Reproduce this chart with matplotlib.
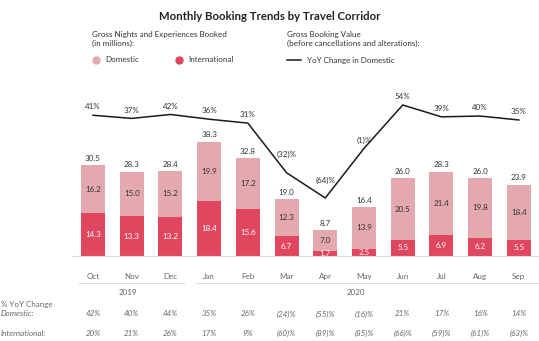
import matplotlib.pyplot as plt
from matplotlib.lines import Line2D

plt.rcParams['font.family'] = ['Lato', 'DejaVu Sans']

# Data
months = ['Oct', 'Nov', 'Dec', 'Jan', 'Feb', 'Mar', 'Apr', 'May', 'Jun', 'Jul', 'Aug', 'Sep']
international = [14.3, 13.3, 13.2, 18.4, 15.6, 6.7, 1.7, 2.5, 5.5, 6.9, 6.2, 5.5]
domestic = [16.2, 15.0, 15.2, 19.9, 17.2, 12.3, 7.0, 13.9, 20.5, 21.4, 19.8, 18.4]
totals = [30.5, 28.3, 28.4, 38.3, 32.8, 19.0, 8.7, 16.4, 26.0, 28.3, 26.0, 23.9]
gbv_yoy_domestic = [41, 37, 42, 36, 31, -32, -64, -1, 54, 39, 40, 35]
nights_yoy_domestic = [42, 40, 44, 35, 26, -24, -55, -16, 21, 17, 16, 14]
nights_yoy_international = [20, 21, 26, 17, 9, -60, -89, -85, -66, -59, -61, -63]
years = ['2019', '2020']

DOM_COLOR = '#E3A9AF'
INTL_COLOR = '#E0475F'
TEXT = '#333333'
GRAY = '#666666'
FS = 5.8


def pct(v):
    return f'({abs(v)})%' if v < 0 else f'{v}%'


W, H = 539, 341
fig = plt.figure(figsize=(W / 100, H / 100), dpi=100)

# main axes (pixel layout: x 72..539, y 95..256)
ax = fig.add_axes([72 / W, (H - 256) / H, 467 / W, 161 / H])
x = list(range(len(months)))
ax.bar(x, international, width=0.62, color=INTL_COLOR)
ax.bar(x, domestic, width=0.62, bottom=international, color=DOM_COLOR)
ax.set_xlim(-0.543, 11.52)
ax.set_ylim(0, 54.0)
ax.set_yticks([])
ax.set_xticks([])
for s in ['top', 'right', 'left']:
    ax.spines[s].set_visible(False)
ax.spines['bottom'].set_color('#dddddd')
ax.spines['bottom'].set_linewidth(0.8)

for i in x:
    ax.annotate(f'{totals[i]:.1f}', (i, totals[i]), xytext=(0, 5), textcoords='offset points',
                ha='center', va='center', fontsize=FS, color=TEXT)
    ax.text(i, international[i] + domestic[i] / 2, f'{domestic[i]:.1f}', ha='center', va='center',
            fontsize=FS, color=TEXT)
    ax.text(i, international[i] / 2, f'{international[i]:.1f}', ha='center', va='center',
            fontsize=FS, color='white')

# YoY line on twin axis
ax2 = ax.twinx()
ax2.set_ylim(-137.6, 66.7)
ax2.axis('off')
ax2.plot(x, gbv_yoy_domestic, color='#1a1a1a', lw=1.1)
for i, v in enumerate(gbv_yoy_domestic):
    off = 13 if v < -10 else 6
    ax2.annotate(pct(v), (i, v), xytext=(0, off), textcoords='offset points',
                 ha='center', va='center', fontsize=FS, color=TEXT)

# month labels, year groups
tr = ax.get_xaxis_transform()
for i, m in enumerate(months):
    ax.text(i, -0.130, m, transform=tr, ha='center', va='center', fontsize=FS, color=GRAY)
ax.plot([-0.35, 2.35], [-0.168, -0.168], transform=tr, clip_on=False, color='#dddddd', lw=0.8)
ax.plot([2.65, 11.5], [-0.168, -0.168], transform=tr, clip_on=False, color='#dddddd', lw=0.8)
ax.text(0.9, -0.224, years[0], transform=tr, ha='center', va='center', fontsize=FS, color=GRAY)
ax.text(6.8, -0.224, years[1], transform=tr, ha='center', va='center', fontsize=FS, color=GRAY)

# YoY table
fig.text(1 / W, 1 - 305 / H, '% YoY Change', ha='left', va='center', fontsize=FS, color=GRAY)
fig.text(1 / W, 1 - 314 / H, 'Domestic:', ha='left', va='center', fontsize=FS, color=GRAY, style='italic')
fig.text(1 / W, 1 - 333 / H, 'International:', ha='left', va='center', fontsize=FS, color=GRAY, style='italic')
for i in x:
    ax.text(i, -(314 - 256) / 161, pct(nights_yoy_domestic[i]), transform=tr, ha='center', va='center',
            fontsize=FS, color=GRAY, style='italic')
    ax.text(i, -(333 - 256) / 161, pct(nights_yoy_international[i]), transform=tr, ha='center',
            va='center', fontsize=FS, color=GRAY, style='italic')

# title and legend
fig.text(270 / W, 1 - 16 / H, 'Monthly Booking Trends by Travel Corridor', ha='center', va='center',
         fontsize=8.2, fontweight='bold', color='#222222')
fig.text(92 / W, 1 - 39 / H, 'Gross Nights and Experiences Booked\n(in millions):', ha='left', va='center',
         fontsize=FS, color=TEXT, linespacing=1.15)
fig.text(287 / W, 1 - 39 / H, 'Gross Booking Value\n(before cancellations and alterations):', ha='left',
         va='center', fontsize=FS, color=TEXT, linespacing=1.15)
fig.add_artist(Line2D([96 / W], [1 - 60 / H], marker='o', markersize=5, color=DOM_COLOR, lw=0))
fig.text(105 / W, 1 - 60 / H, 'Domestic', ha='left', va='center', fontsize=FS, color=TEXT)
fig.add_artist(Line2D([179 / W], [1 - 60 / H], marker='o', markersize=5, color=INTL_COLOR, lw=0))
fig.text(188 / W, 1 - 60 / H, 'International', ha='left', va='center', fontsize=FS, color=TEXT)
fig.add_artist(Line2D([287 / W, 301 / W], [1 - 60 / H, 1 - 60 / H], color='#1a1a1a', lw=1.1))
fig.text(307 / W, 1 - 60 / H, 'YoY Change in Domestic', ha='left', va='center', fontsize=FS, color=TEXT)

fig.savefig('out.png', dpi=100)
